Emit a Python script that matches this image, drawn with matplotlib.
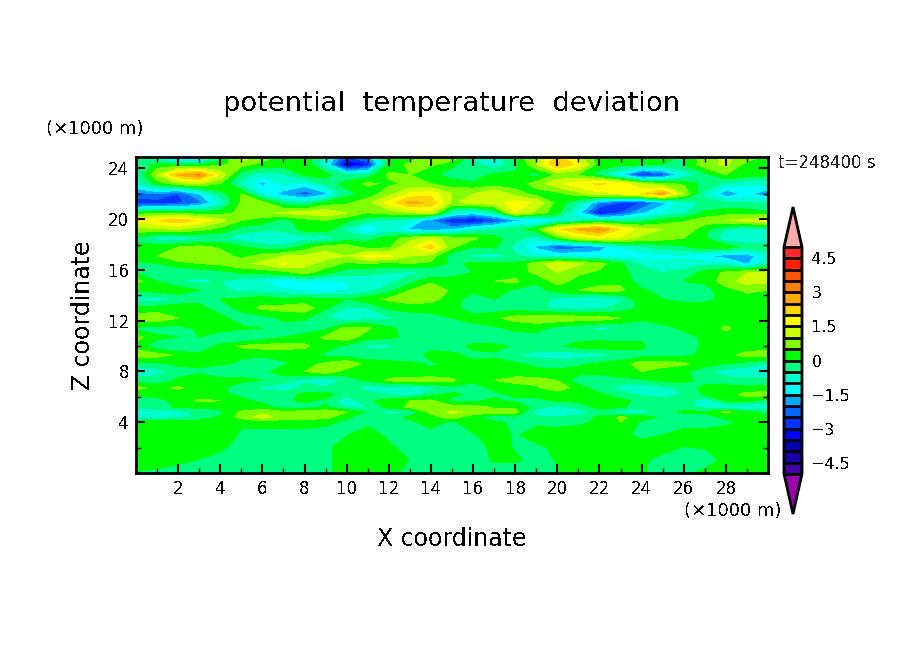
import matplotlib
matplotlib.use('Agg')
import matplotlib.pyplot as plt
from matplotlib.colors import ListedColormap, BoundaryNorm
import numpy as np

# values, x in km (0..30), one row per height
x_km = list(range(0, 31))
z_km = [24.9, 24.3, 23.5, 22.8, 22, 21.3, 20.5, 19.9, 19.2, 18.5, 17.8, 17.1, 16.5,
        15.8, 15.1, 14.4, 13.7, 13, 12.2, 11.4, 10.7, 10, 9.3, 8.6, 8, 7.3, 6.7,
        6.2, 5.7, 5.2, 4.8, 4.4, 4, 3, 2, 1, 0]
theta_dev = [
    [-0.3,-1.2,-2.2,-2.0,-0.3,1.3,0.8,0.2,0.3,-0.7,-2.5,-1.8,0.2,0.3,0.7,1.0,-0.6,-0.8,0.1,1.0,2.2,1.2,0.1,0.3,0.6,0.2,-0.1,0.8,1.1,0.8,0.3],
    [-0.5,0.2,0.1,-0.1,0.4,0.7,0.3,0.2,0.5,-1.0,-3.7,-3.0,0.2,0.6,0.6,0.1,-0.3,-0.9,-0.2,1.0,2.6,1.8,0.2,0.1,0.1,0.0,0.0,0.8,1.1,0.3,0.0],
    [-0.7,1.0,2.6,3.1,1.4,-0.3,-0.8,-0.6,0.1,0.2,-0.5,-0.3,0.6,0.5,0.1,-0.2,-0.3,0.1,0.1,-0.2,0.6,0.4,-0.2,-1.4,-3.0,-2.5,-1.0,-0.2,0.5,0.3,0.1],
    [-0.8,0.2,0.8,1.1,0.5,-0.7,-1.7,-0.8,-1.2,-0.3,0.2,0.6,0.4,0.6,0.5,0.2,0.1,0.2,0.2,0.7,1.4,1.8,2.1,1.8,1.0,0.6,0.4,-0.2,-0.6,-0.9,-0.8],
    [-2.2,-2.0,-2.5,-1.5,-0.2,0.5,-1.0,-1.8,-2.3,-1.7,-0.2,0.2,0.8,1.6,1.8,1.0,1.0,1.5,0.8,0.3,0.3,0.8,1.4,1.5,2.0,2.8,1.0,-0.6,-2.0,-1.3,-2.0],
    [-2.8,-2.8,-2.6,-2.2,-0.9,0.6,0.7,-0.3,-0.6,0.2,0.4,0.8,1.7,2.7,2.4,0.9,1.2,1.3,1.7,1.4,0.3,-0.5,-2.0,-2.5,-2.5,-1.7,-0.8,-0.4,-0.4,-0.5,-0.6],
    [0.2,0.4,0.3,0.2,0.3,0.6,0.8,1.1,1.2,1.4,1.0,0.5,0.7,1.0,1.2,-0.8,-1.3,-0.6,1.5,0.8,0.2,-1.3,-3.2,-2.5,-1.6,-1.0,-0.6,0.1,0.3,0.3,0.1],
    [1.6,2.0,2.4,1.9,1.2,0.5,0.3,-0.2,0.3,0.5,0.1,-0.4,-0.6,-0.9,-2.0,-3.0,-3.2,-2.6,-1.7,-1.6,-1.0,-0.6,-0.4,-0.5,-0.3,0.2,0.4,0.8,1.0,1.2,1.7],
    [0.8,0.9,1.0,0.7,0.3,-0.2,-0.4,-0.4,0.2,0.3,-0.6,-1.6,-0.8,-1.6,-1.8,-1.6,-0.8,-0.5,-0.2,0.3,1.9,2.6,3.1,2.0,1.2,1.0,1.0,0.1,-0.5,-0.8,-0.6],
    [-0.1,-0.7,-0.9,-0.6,-0.4,-0.8,-1.0,-0.9,-0.7,-0.8,-0.3,-0.2,0.2,0.8,1.2,0.8,0.6,0.2,-0.3,-0.8,0.3,1.2,1.5,1.4,0.9,0.7,0.5,0.1,-0.9,-0.9,-0.9],
    [0.1,0.3,0.5,0.7,0.4,0.1,-0.2,-0.4,0.2,0.8,0.8,0.3,0.4,1.4,2.3,0.6,0.0,0.1,-0.7,-1.6,-2.4,-2.2,-1.8,-1.0,-0.6,-0.3,-0.1,0.4,0.3,-0.2,-0.2],
    [0.2,0.5,0.9,1.0,0.8,0.3,0.7,1.0,1.1,1.2,1.0,1.7,1.6,1.0,0.8,-0.3,-0.6,-0.8,-0.4,-0.9,-1.1,-1.1,-1.2,-1.2,-1.2,-1.1,-1.1,-1.5,-1.8,-1.9,-0.8],
    [-0.1,0.0,0.3,0.5,0.6,0.9,1.1,1.6,1.2,0.8,0.4,0.5,0.3,0.5,0.4,-0.1,0.1,0.2,0.1,0.8,1.4,1.1,0.7,0.1,-0.6,-0.9,-0.7,-0.7,-0.8,-1.6,-0.6],
    [0.0,-0.3,-0.4,-0.3,-0.2,0.1,0.2,0.3,0.7,0.2,-0.3,-0.4,-0.5,-0.6,-0.5,-0.3,0.0,0.5,0.3,0.6,1.0,0.6,0.4,0.2,-0.3,-0.5,-0.4,0.2,0.6,1.0,1.1],
    [0.7,0.0,-0.5,-0.6,-0.5,-0.8,-1.0,-1.4,-1.0,-1.2,-1.0,-0.7,-0.7,-0.2,0.4,0.3,0.2,0.5,0.6,0.1,0.7,0.3,0.3,0.4,-0.3,-0.3,0.0,0.1,0.8,1.2,1.1],
    [0.1,0.2,0.4,0.0,-0.4,-0.6,-0.7,-0.9,-1.1,-1.2,-1.0,-0.7,-0.2,0.5,0.9,0.4,0.1,0.3,-0.1,-0.2,0.2,0.5,0.7,0.6,0.1,-0.2,-0.3,-0.2,0.3,0.6,0.5],
    [-0.7,-0.7,-0.5,-0.2,0.0,0.1,0.3,0.1,0.2,0.1,0.0,0.3,0.6,0.8,0.7,0.2,-0.2,0.0,-0.1,-0.3,-0.6,-0.8,-1.0,-0.6,0.4,0.0,-0.1,-0.1,0.1,0.3,0.3],
    [0.1,0.2,0.4,0.2,-0.3,0.2,0.6,0.7,0.8,0.1,-0.6,-0.5,0.1,0.2,0.2,0.2,-0.3,-0.3,-0.2,-0.4,-0.6,-0.7,-0.6,-0.3,0.1,0.2,0.2,0.2,0.5,0.4,0.3],
    [0.8,0.9,0.5,0.2,0.2,-0.3,-0.2,0.1,0.1,-0.5,-0.9,-0.7,-0.6,-0.3,-0.2,0.0,0.2,0.4,0.7,0.8,0.9,0.8,0.8,0.5,0.1,0.3,0.3,0.2,0.2,0.2,0.2],
    [-0.1,-0.2,-0.2,0.1,0.2,0.1,0.0,-0.2,-0.3,-0.1,0.7,0.6,0.1,-0.2,-0.3,-0.2,-0.2,-0.1,0.1,0.2,-0.2,-0.4,-0.6,-0.5,-0.3,-0.2,0.1,0.1,0.6,0.2,0.2],
    [0.7,0.1,0.0,0.0,-0.3,-0.6,-0.3,0.0,0.2,0.6,0.8,0.2,0.1,-0.1,-0.1,-0.1,-0.2,-0.6,-0.2,-0.2,-0.2,-0.2,-0.2,-0.2,-0.1,-0.2,-0.2,0.1,0.2,0.3,0.3],
    [0.3,-0.3,-0.6,-0.3,0.1,0.6,0.7,0.7,0.6,0.2,-0.1,-0.6,-0.6,-0.1,-0.3,-0.2,0.1,0.2,-0.1,-0.1,-0.1,0.2,0.3,0.2,0.1,-0.4,-0.3,0.1,0.1,0.2,0.2],
    [0.8,0.7,0.4,0.1,0.1,0.1,0.1,0.2,0.2,-0.1,-0.2,-0.3,-0.2,-0.6,0.3,0.1,-0.1,-0.1,-0.5,-0.7,-0.8,-0.8,-0.7,-0.3,-0.2,-0.2,-0.1,0.1,0.3,0.7,0.8],
    [-0.2,-0.1,0.1,0.1,0.1,-0.1,-0.4,-0.1,0.3,0.6,0.9,0.3,0.1,0.2,-0.1,0.1,0.1,0.2,0.1,-0.1,-0.2,-0.1,0.1,0.2,0.8,0.8,0.6,0.2,0.0,-0.2,-0.6],
    [-0.9,-0.7,-0.2,-0.1,-0.5,-0.2,-0.2,0.3,0.5,0.9,0.3,0.1,0.2,0.1,0.2,0.2,0.2,0.3,0.2,0.1,0.1,0.2,0.1,0.4,0.5,0.2,0.1,-0.3,-0.8,-0.9,-0.9],
    [-0.2,-0.3,0.1,0.3,0.2,0.1,0.0,-0.3,-0.6,-1.0,-0.3,0.1,0.6,0.7,0.7,0.6,0.1,0.5,0.7,0.7,0.5,-0.3,-0.2,-0.2,-0.1,0.1,0.1,-0.1,-0.3,-0.3,-0.4],
    [0.7,0.3,0.6,0.2,0.1,-0.3,-0.6,-0.8,-0.3,-0.4,-0.2,-0.8,-0.8,-0.8,-0.6,-0.2,-0.2,0.1,0.2,0.4,0.8,0.3,-0.3,-0.7,-0.9,-0.7,-0.2,0.1,0.2,0.1,0.2],
    [0.1,0.1,0.1,0.2,0.1,-0.1,-0.3,-0.2,0.1,0.2,-0.3,-0.2,-0.5,-0.8,-0.2,0.1,-0.1,-0.1,0.1,0.2,0.2,0.2,0.1,-0.2,-0.6,-0.9,-0.5,0.1,0.2,0.7,0.7],
    [-0.2,-0.1,0.1,0.6,0.5,0.1,-0.1,-0.1,0.1,-0.1,-0.9,-0.1,0.2,0.5,0.6,-0.1,-0.1,0.1,-0.1,-0.2,0.1,0.1,0.3,0.1,-0.1,-0.2,-0.2,-0.9,0.1,0.2,-0.3],
    [-0.4,-0.3,0.1,0.1,0.1,0.1,0.2,-0.2,-0.3,0.1,-0.6,-0.5,0.2,0.6,0.7,0.7,0.7,0.4,0.4,-0.2,-0.7,-0.3,0.2,0.1,-0.3,-0.3,-0.2,-0.7,-1.0,-1.1,-0.8],
    [-0.9,-0.8,-0.8,-0.3,-0.1,0.6,0.9,0.6,0.8,0.8,0.5,-0.1,-0.8,-0.5,0.7,1.1,0.9,0.7,0.7,-0.8,-1.1,-0.9,-0.2,-0.8,-0.8,-0.2,0.1,0.1,0.6,0.2,-0.2],
    [-0.8,-0.8,-0.6,-0.4,0.1,0.7,1.2,0.8,0.7,0.7,0.1,-0.4,-0.2,0.1,0.2,0.8,0.1,-0.3,-0.2,-0.4,-0.4,-0.3,0.1,0.6,0.3,-0.1,-0.2,-0.2,0.1,0.1,0.1],
    [0.3,0.3,0.3,0.3,0.2,0.05,0.2,0.2,0.2,0.1,-0.1,-0.1,-0.2,-0.1,0.2,-0.1,0.3,0.1,-0.1,-0.1,-0.2,-0.1,0.1,0.5,-0.1,-0.1,-0.2,-0.3,-0.1,0.1,0.1],
    [0.3,0.3,0.3,0.3,0.2,-0.05,-0.2,-0.2,-0.2,-0.2,-0.02,0.2,-0.1,-0.2,-0.2,-0.2,-0.05,0.2,-0.05,0.2,0.3,0.3,0.2,0.1,-0.1,0.0,0.2,0.3,0.3,0.3,0.3],
    [0.3,0.3,0.3,0.2,0.1,-0.2,-0.2,-0.2,-0.2,-0.1,0.2,0.3,0.1,-0.2,-0.2,-0.2,-0.2,0.1,-0.02,-0.1,0.1,0.3,0.3,0.3,0.2,0.1,-0.02,0.02,0.2,0.3,0.3],
    [0.2,0.2,0.1,-0.02,-0.2,-0.2,-0.2,-0.2,-0.2,-0.1,0.2,0.3,0.3,-0.02,-0.2,-0.2,-0.2,0.05,0.05,-0.1,0.02,0.2,0.3,0.2,0.05,-0.1,-0.2,-0.2,0.1,0.2,0.3],
    [-0.02,-0.1,-0.2,-0.2,-0.2,-0.2,-0.2,-0.2,-0.2,-0.1,0.2,0.2,0.1,-0.1,-0.2,-0.2,-0.2,-0.2,-0.2,-0.1,-0.02,0.2,0.2,0.2,0.03,-0.1,-0.1,0.1,0.3,0.3,0.3],
]

levels = [-5 + 0.5 * i for i in range(21)]
band_colors = ['#4400aa', '#1a00aa', '#0000aa', '#0000ff', '#0033ff', '#0066ff', '#00aaff',
               '#00ffff', '#00ffcc', '#00ff80', '#00ff00', '#80ff00', '#ccff00', '#ffff00',
               '#ffd500', '#ffaa00', '#ff7f00', '#ff5500', '#ff2000', '#ff2828']
under_color = '#9900aa'
over_color = '#ffaaaa'
x_major = list(range(2, 30, 2))
x_minor = list(range(1, 30, 2))
z_major = list(range(4, 25, 4))
z_minor = list(range(2, 25, 4))
cbar_ticks = [-4.5, -3, -1.5, 0, 1.5, 3, 4.5]
cbar_labels = ['\u22124.5', '\u22123', '\u22121.5', '0', '1.5', '3', '4.5']

plt.rcParams['text.antialiased'] = False
W, H = 904, 654
fig = plt.figure(figsize=(W / 100, H / 100), dpi=100)


def box(left, top, right, bottom):
    return [left / W, 1 - bottom / H, (right - left) / W, (bottom - top) / H]


cmap = ListedColormap(band_colors).with_extremes(under=under_color, over=over_color)
norm = BoundaryNorm(levels, cmap.N)

ax = fig.add_axes(box(136, 157, 768, 473))
cf = ax.contourf(x_km, z_km, np.array(theta_dev), levels=levels, cmap=cmap, norm=norm,
                 extend='both', antialiased=False)
ax.set_xlim(0, 30)
ax.set_ylim(0, 24.9)
ax.set_xticks(x_major)
ax.set_xticks(x_minor, minor=True)
ax.set_yticks(z_major)
ax.set_yticks(z_minor, minor=True)
ax.tick_params(which='major', direction='in', top=True, right=True, length=6.5, width=1.5,
               labelsize=12, pad=5)
ax.tick_params(which='minor', direction='in', top=True, right=True, length=3.5, width=1)
for s in ax.spines.values():
    s.set_linewidth(2)

cax = fig.add_axes(box(784, 207, 802, 514))
cb = fig.colorbar(cf, cax=cax, extend='both', extendfrac=0.177, drawedges=True, spacing='uniform')
cb.set_ticks(cbar_ticks, labels=cbar_labels)
cb.minorticks_off()
cb.ax.tick_params(length=0, labelsize=11.5, pad=7)
cb.outline.set_linewidth(2)
cb.dividers.set_linewidth(2)
cb.dividers.set_color('black')


def label(px, py, s, size, **kw):
    fig.text(px / W, 1 - py / H, s, fontsize=size, ha='center', va='center', **kw)


label(452, 104, 'potential  temperature  deviation', 19.7)
label(95, 129, '(\u00d71000 m)', 13)
label(733, 511, '(\u00d71000 m)', 13)
label(827, 163, 't=248400 s', 12, color='#222222')
label(452, 539, 'X coordinate', 17)
label(83, 315, 'Z coordinate', 17, rotation=90)

fig.savefig('out.png', dpi=100)
